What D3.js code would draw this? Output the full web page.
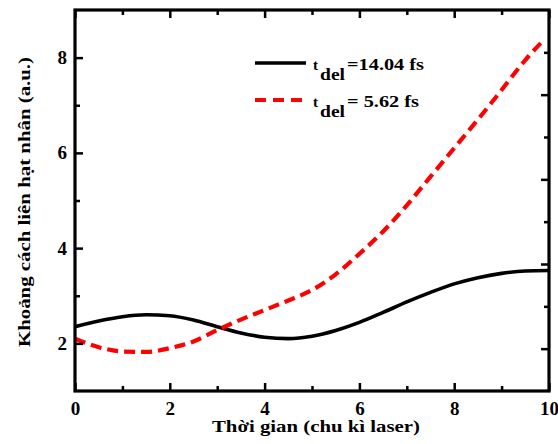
<!DOCTYPE html>
<html><head><meta charset="utf-8">
<script src="https://cdn.jsdelivr.net/npm/d3@7"></script>
<style>
html,body{margin:0;padding:0;background:#fff;}
svg{display:block;}
text{font-family:"Liberation Serif","Times New Roman",serif;font-weight:bold;fill:#000;}
</style></head>
<body><svg id="chart" width="558" height="444"></svg>
<script>
// ---- data ----
const timeBlack = [0,0.5,1,1.5,2,2.5,3,3.5,4,4.5,5,5.5,6,6.5,7,7.5,8,8.5,9,9.5,10];
const distBlack = [2.35,2.47,2.56,2.6,2.58,2.49,2.35,2.22,2.13,2.1,2.15,2.27,2.44,2.65,2.87,3.07,3.25,3.38,3.47,3.52,3.53];
const timeRed = [0,0.5,1,1.5,2,2.5,3,3.5,4,4.5,5,5.5,6,6.5,7,7.5,8,8.5,9,9.5,9.85];
const distRed = [2.1,1.92,1.83,1.82,1.9,2.04,2.28,2.5,2.7,2.9,3.12,3.45,3.88,4.35,4.9,5.5,6.1,6.7,7.32,7.95,8.33];
const seriesLabels = ["=14.04 fs","= 5.62 fs"];
const xMajorTicks = [0,2,4,6,8,10];
const xMinorTicks = [1,3,5,7,9];
const yMajorTicks = [2,4,6,8];
const yMinorTicks = [3,5,7];
const rightMajorTicks = [1,3,5,7];
const rightMinorTicks = [2,4,6,8];
const xTitle = "Thời gian (chu kì laser)";
const yTitle = "Khoảng cách liên hạt nhân (a.u.)";

// ---- layout ----
const FONT = "'Liberation Serif', 'Times New Roman', serif";
const L = 75, R = 549, T = 10, B = 391;
const svg = d3.select("#chart");
const x = d3.scaleLinear().domain([0,10]).range([L,R]);
const y = d3.scaleLinear().domain([1,9]).range([B,T]);
const yRight = d3.scaleLinear().domain([0,9]).range([B,T]);

// curves
const line = d3.line().x(d=>x(d[0])).y(d=>y(d[1])).curve(d3.curveMonotoneX);
const blackData = timeBlack.map((t,i)=>[t,distBlack[i]]);
const redData = timeRed.map((t,i)=>[t,distRed[i]]);
svg.append("clipPath").attr("id","clp").append("rect")
  .attr("x",L).attr("y",T).attr("width",R-L).attr("height",B-T);
svg.append("path").datum(blackData).attr("d",line)
  .attr("fill","none").attr("stroke","#000").attr("stroke-width",3.6).attr("clip-path","url(#clp)");
svg.append("path").datum(redData).attr("d",line)
  .attr("fill","none").attr("stroke","#ff0000").attr("stroke-width",4.2)
  .attr("stroke-dasharray","11,6").attr("clip-path","url(#clp)");

// axes
function styleAxis(g){
  g.attr("font-family",FONT).attr("font-size",19);
  g.select(".domain").remove();
  g.selectAll(".tick line").attr("stroke","#000").attr("stroke-width",2.5);
  g.selectAll("text").attr("font-family",FONT).attr("font-weight","bold").attr("font-size",19);
}
// bottom
svg.append("g").attr("transform",`translate(0,${B})`)
  .call(d3.axisBottom(x).tickValues(xMajorTicks).tickSize(-8).tickPadding(11).tickFormat(d3.format("d")))
  .call(styleAxis);
svg.append("g").attr("transform",`translate(0,${B})`)
  .call(d3.axisBottom(x).tickValues(xMinorTicks).tickSize(-5).tickFormat(""))
  .call(styleAxis);
// top
svg.append("g").attr("transform",`translate(0,${T})`)
  .call(d3.axisTop(x).tickValues(xMajorTicks).tickSize(-8).tickFormat(""))
  .call(styleAxis);
svg.append("g").attr("transform",`translate(0,${T})`)
  .call(d3.axisTop(x).tickValues(xMinorTicks).tickSize(-5).tickFormat(""))
  .call(styleAxis);
// left
svg.append("g").attr("transform",`translate(${L},0)`)
  .call(d3.axisLeft(y).tickValues(yMajorTicks).tickSize(-8).tickPadding(8).tickFormat(d3.format("d")))
  .call(styleAxis);
svg.append("g").attr("transform",`translate(${L},0)`)
  .call(d3.axisLeft(y).tickValues(yMinorTicks).tickSize(-5).tickFormat(""))
  .call(styleAxis);
// right
svg.append("g").attr("transform",`translate(${R},0)`)
  .call(d3.axisRight(yRight).tickValues(rightMajorTicks).tickSize(-8).tickFormat(""))
  .call(styleAxis);
svg.append("g").attr("transform",`translate(${R},0)`)
  .call(d3.axisRight(yRight).tickValues(rightMinorTicks).tickSize(-5).tickFormat(""))
  .call(styleAxis);

// frame
svg.append("rect").attr("x",L).attr("y",T).attr("width",R-L).attr("height",B-T)
  .attr("fill","none").attr("stroke","#000").attr("stroke-width",3.2);

// axis titles
svg.append("text").attr("x",(212+420)/2).attr("y",432).attr("text-anchor","middle")
  .attr("font-family",FONT).style("font-size","16px")
  .attr("textLength",208).attr("lengthAdjust","spacingAndGlyphs").text(xTitle);
svg.append("text").attr("transform","translate(30,202) rotate(-90)").attr("text-anchor","middle")
  .attr("font-family",FONT).style("font-size","16px")
  .attr("textLength",290).attr("lengthAdjust","spacingAndGlyphs").text(yTitle);

// legend
const legY = [63,100];
svg.append("line").attr("x1",255).attr("x2",306).attr("y1",legY[0]).attr("y2",legY[0])
  .attr("stroke","#000").attr("stroke-width",3.6);
svg.append("line").attr("x1",255).attr("x2",303).attr("y1",legY[1]).attr("y2",legY[1])
  .attr("stroke","#ff0000").attr("stroke-width",4.2).attr("stroke-dasharray","11,7");
seriesLabels.forEach((lab,i)=>{
  const base = legY[i]+7;
  const t = svg.append("text").attr("x",313).attr("y",base).attr("font-family",FONT).style("font-size","15px");
  t.append("tspan").text("t");
  t.append("tspan").attr("x",320).attr("dy",10).style("font-size","16px")
    .attr("textLength",25).attr("lengthAdjust","spacingAndGlyphs").text("del");
  t.append("tspan").attr("x",347).attr("dy",-10).style("font-size","16px")
    .attr("textLength", i===0?77:72).attr("lengthAdjust","spacingAndGlyphs").text(lab);
});
</script></body></html>
